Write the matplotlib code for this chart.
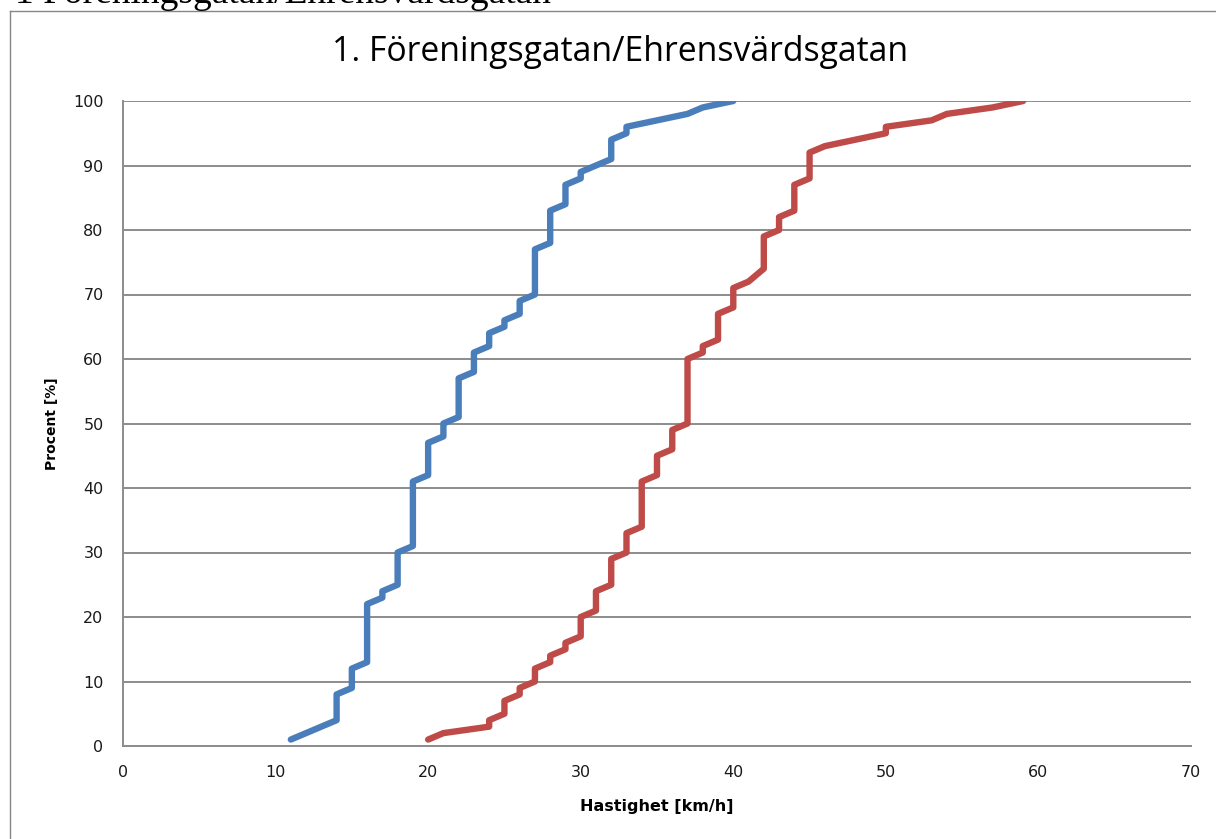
import numpy as np
import matplotlib
matplotlib.use('Agg')
import matplotlib.pyplot as plt
from matplotlib.lines import Line2D

# speed [km/h] vs cumulative share [%]
blue_speed = [11, 14, 14, 15, 15, 16, 16, 17, 17, 18, 18, 19, 19, 20, 20, 21, 21,
              22, 22, 23, 23, 24, 24, 25, 25, 26, 26, 27, 27, 28, 28, 29, 29, 30,
              30, 31, 32, 32, 33, 33, 37, 38, 40]
blue_pct = [1, 4, 8, 9, 12, 13, 22, 23, 24, 25, 30, 31, 41, 42, 47, 48, 50,
            51, 57, 58, 61, 62, 64, 65, 66, 67, 69, 70, 77, 78, 83, 84, 87, 88,
            89, 90, 91, 94, 95, 96, 98, 99, 100]

red_speed = [20, 21, 24, 24, 25, 25, 26, 26, 27, 27, 28, 28, 29, 29, 30, 30, 31,
             31, 32, 32, 33, 33, 34, 34, 35, 35, 36, 36, 37, 37, 38, 38, 39, 39,
             40, 40, 41, 42, 42, 43, 43, 44, 44, 45, 45, 46, 50, 50, 53, 54, 57, 59]
red_pct = [1, 2, 3, 4, 5, 7, 8, 9, 10, 12, 13, 14, 15, 16, 17, 20, 21,
           24, 25, 29, 30, 33, 34, 41, 42, 45, 46, 49, 50, 60, 61, 62, 63, 67,
           68, 71, 72, 74, 79, 80, 82, 83, 87, 88, 92, 93, 95, 96, 97, 98, 99, 100]

x_ticks = [0, 10, 20, 30, 40, 50, 60, 70]
y_ticks = [0, 10, 20, 30, 40, 50, 60, 70, 80, 90, 100]

title = '1. Föreningsgatan/Ehrensvärdsgatan'
page_text = '1 Föreningsgatan/Ehrensvärdsgatan'

W, H = 1216, 839
fig = plt.figure(figsize=(W / 100, H / 100), dpi=100)
ax = fig.add_axes([123 / W, 1 - 746 / H, (1191 - 123) / W, (746 - 101) / H])

ax.plot(blue_speed, blue_pct, color='#4A7EBB', lw=4.6,
        solid_capstyle='round', solid_joinstyle='round', zorder=3)
ax.plot(red_speed, red_pct, color='#BE4B48', lw=4.6,
        solid_capstyle='round', solid_joinstyle='round', zorder=3)

ax.set_xlim(0, 70)
ax.set_ylim(0, 100)
ax.set_xticks(x_ticks)
ax.set_yticks(y_ticks)
ax.tick_params(length=0, labelsize=11.5, colors='#1a1a1a', pad=14)
ax.tick_params(axis='x', pad=14)
ax.grid(axis='y', color='#8c8c8c', lw=1.4)
ax.set_axisbelow(True)
for s in ['top', 'right']:
    ax.spines[s].set_visible(False)
for s in ['left', 'bottom']:
    ax.spines[s].set_color('#8c8c8c')
    ax.spines[s].set_linewidth(1.4)

ax.set_xlabel('Hastighet [km/h]', fontsize=11.5, fontweight='bold')
ax.set_ylabel('Procent [%]', fontsize=10, fontweight='bold')
ax.xaxis.set_label_coords(0.5, (746 - 807) / 645)
ax.xaxis.label.set_va('center')
ax.yaxis.set_label_coords((52 - 123) / 1068, 0.5)
ax.yaxis.label.set_va('center')

fig.text(620 / W, 1 - 52 / H, title, fontsize=24.3, family='Open Sans',
         ha='center', va='center', color='#000000')

# chart frame and text of the page above it
fig.add_artist(Line2D([9.5 / W, 9.5 / W], [0, 1 - 11 / H], color='#868686', lw=1))
fig.add_artist(Line2D([9.5 / W, 1], [1 - 11 / H, 1 - 11 / H], color='#868686', lw=1))
fig.text(15 / W, 1 - 3 / H, page_text, fontsize=27, family='Liberation Serif',
         ha='left', va='baseline')

fig.savefig('out.png', dpi=100)
